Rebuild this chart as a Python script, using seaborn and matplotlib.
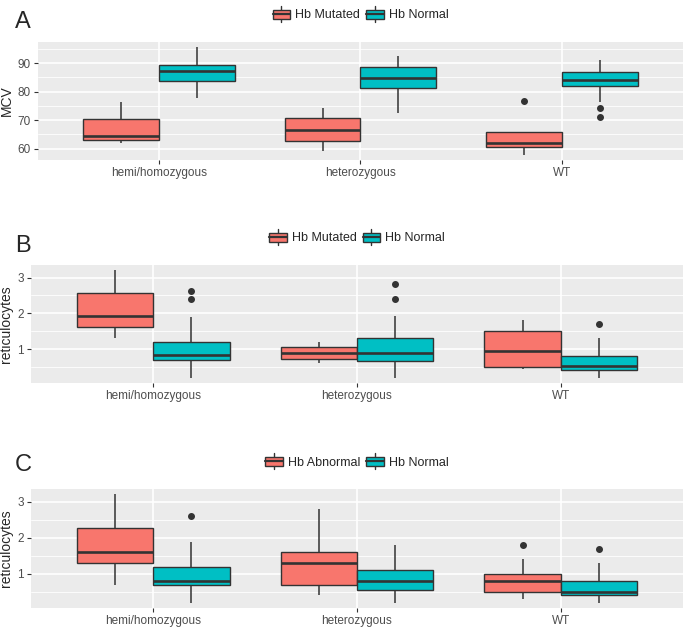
import matplotlib
matplotlib.use('Agg')
from matplotlib import pyplot as plt
from matplotlib.legend_handler import HandlerBase
from matplotlib.patches import Rectangle, Patch
from matplotlib.lines import Line2D
from matplotlib.ticker import AutoMinorLocator
import seaborn as sns
import pandas as pd

# categories
genotypes = ['hemi/homozygous', 'heterozygous', 'WT']

# summaries: (lower whisker, Q1, median, Q3, upper whisker)
# panel A - MCV
mcvMutated = [(62.0, 63.0, 64.3, 70.4, 76.3), (59.3, 62.8, 66.6, 70.7, 74.1), (57.9, 60.5, 62.0, 65.9, 65.9)]
mcvMutatedOut = [[], [], [76.7]]
mcvNormal = [(77.7, 83.7, 87.2, 89.4, 95.5), (72.4, 81.1, 84.9, 88.6, 92.6), (76.4, 82.0, 84.0, 86.7, 91.2)]
mcvNormalOut = [[], [], [74.1, 71.0]]

# panel B - reticulocytes
retBMutated = [(1.31, 1.61, 1.91, 2.56, 3.20), (0.61, 0.73, 0.90, 1.07, 1.19), (0.45, 0.49, 0.94, 1.50, 1.81)]
retBMutatedOut = [[], [], []]
retBNormal = [(0.20, 0.70, 0.82, 1.20, 1.89), (0.20, 0.67, 0.90, 1.31, 1.91), (0.20, 0.41, 0.52, 0.81, 1.31)]
retBNormalOut = [[2.40, 2.62], [2.41, 2.81], [1.70]]

# panel C - reticulocytes
retCAbnormal = [(0.70, 1.30, 1.61, 2.28, 3.20), (0.41, 0.69, 1.31, 1.59, 2.80), (0.30, 0.49, 0.81, 1.00, 1.40)]
retCAbnormalOut = [[], [], [1.81]]
retCNormal = [(0.20, 0.69, 0.81, 1.20, 1.89), (0.20, 0.56, 0.81, 1.09, 1.80), (0.20, 0.41, 0.50, 0.80, 1.30)]
retCNormalOut = [[2.61], [], [1.70]]

RED = '#F8766D'
CYAN = '#00BFC4'
DARK = '#333333'


def expand(stats, outliers):
    # 17 values whose quartiles / whiskers reproduce the summary
    lo, q1, med, q3, hi = stats
    lowOut = sorted(v for v in outliers if v < q1)
    highOut = sorted(v for v in outliers if v > q3)
    vals = lowOut + [lo] + [q1] * (4 - len(lowOut))
    vals += [med] * 4 + [q3] * 4
    vals += [q3] * (3 - len(highOut)) + [hi] + highOut
    return vals


def buildDf(groupA, outA, nameA, groupB, outB, nameB):
    rows = []
    for name, group, outs in [(nameA, groupA, outA), (nameB, groupB, outB)]:
        for g, st, ol in zip(genotypes, group, outs):
            for v in expand(st, ol):
                rows.append({'genotype': g, 'group': name, 'value': v})
    return pd.DataFrame(rows)


class BoxKey(HandlerBase):
    # ggplot-like boxplot legend key
    def create_artists(self, legend, orig_handle, xdescent, ydescent, width, height, fontsize, trans):
        x0, y0 = -xdescent, -ydescent
        fc = orig_handle.get_facecolor()
        xm = x0 + width / 2
        w1 = Line2D([xm, xm], [y0 - 0.1 * height, y0 + 0.15 * height], color=DARK, lw=1.0, transform=trans)
        w2 = Line2D([xm, xm], [y0 + 0.85 * height, y0 + 1.1 * height], color=DARK, lw=1.0, transform=trans)
        box = Rectangle((x0, y0 + 0.15 * height), width, 0.7 * height, facecolor=fc,
                        edgecolor=DARK, lw=1.0, transform=trans)
        med = Line2D([x0, x0 + width], [y0 + 0.5 * height] * 2, color=DARK, lw=1.6, transform=trans)
        return [w1, w2, box, med]


sns.set_theme(style='darkgrid')
plt.rcParams['font.family'] = ['Liberation Sans', 'DejaVu Sans']

fig = plt.figure(figsize=(6.85, 6.29), dpi=100)

panels = [
    ('A', buildDf(mcvMutated, mcvMutatedOut, 'Hb Mutated', mcvNormal, mcvNormalOut, 'Hb Normal'),
     'Hb Mutated', 'Hb Normal', 'MCV', [60, 70, 80, 90], [38, 42, 160], 22.5),
    ('B', buildDf(retBMutated, retBMutatedOut, 'Hb Mutated', retBNormal, retBNormalOut, 'Hb Normal'),
     'Hb Mutated', 'Hb Normal', 'reticulocytes', [1, 2, 3], [31, 265, 383], 246),
    ('C', buildDf(retCAbnormal, retCAbnormalOut, 'Hb Abnormal', retCNormal, retCNormalOut, 'Hb Normal'),
     'Hb Abnormal', 'Hb Normal', 'reticulocytes', [1, 2, 3], [31, 489, 608], 465),
]

W, H = 685.0, 629.0
for letter, df, nameA, nameB, ylab, yticks, (left, top, bottom), letterY in panels:
    ax = fig.add_axes([left / W, 1 - bottom / H, (683 - left) / W, (bottom - top) / H])
    ax.set_facecolor('#EBEBEB')
    sns.boxplot(data=df, x='genotype', y='value', hue='group', order=genotypes,
                hue_order=[nameA, nameB], palette=[RED, CYAN], saturation=1,
                width=0.75, gap=0, linecolor=DARK, linewidth=1.0, fliersize=4,
                medianprops={'linewidth': 1.9, 'color': DARK},
                whiskerprops={'linewidth': 1.1, 'color': DARK},
                flierprops={'marker': 'o', 'markerfacecolor': DARK, 'markeredgecolor': DARK},
                capprops={'linewidth': 0}, legend=False, ax=ax)
    ax.set_xlim(-0.6, 2.6)
    ax.set_yticks(yticks)
    ax.yaxis.set_minor_locator(AutoMinorLocator(2))
    ax.grid(which='major', color='white', lw=1.2)
    ax.grid(which='minor', axis='y', color='white', lw=0.6)
    ax.set_axisbelow(True)
    for s in ax.spines.values():
        s.set_visible(False)
    ax.tick_params(which='major', length=3, width=0.8, color=DARK, labelsize=8.5,
                   labelcolor='#4D4D4D', pad=2, left=True, bottom=True)
    ax.tick_params(which='minor', length=0)
    ax.set_xlabel('')
    ax.set_ylabel(ylab, fontsize=10, labelpad=3)

    handles = [Patch(facecolor=RED), Patch(facecolor=CYAN)]
    ax.legend(handles, [nameA, nameB], handler_map={Patch: BoxKey()}, ncol=2, frameon=False,
              loc='center', bbox_to_anchor=(0.5, 1 + 27.5 / (bottom - top)), fontsize=9,
              handlelength=1.4, handleheight=1.3, handletextpad=0.4, columnspacing=0.5)

    fig.text(23 / W, 1 - letterY / H, letter, fontsize=17, ha='center', va='center')

plt.savefig('out.png', dpi=100)
